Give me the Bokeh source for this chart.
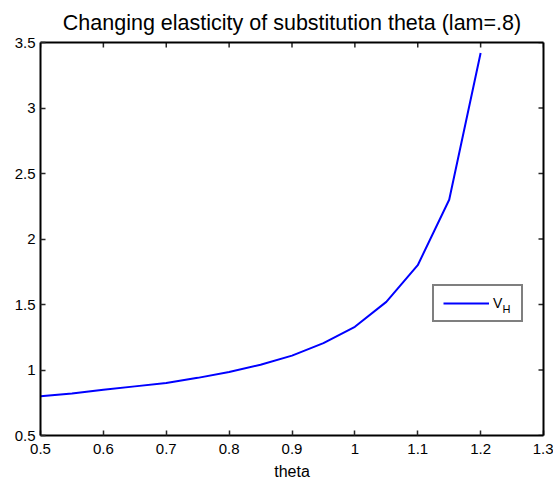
from bokeh.plotting import figure
from bokeh.models import (LinearAxis, FixedTicker, CustomJSTickFormatter, Legend,
                          LegendItem, Label, Range1d)
from bokeh.embed import file_html
from bokeh.resources import INLINE

theta = [0.5, 0.55, 0.6, 0.65, 0.7, 0.75, 0.8, 0.85, 0.9, 0.95, 1.0, 1.05, 1.1, 1.15, 1.2]
v_h = [0.80, 0.82, 0.85, 0.875, 0.90, 0.94, 0.985, 1.04, 1.11, 1.205, 1.33, 1.52, 1.80, 2.30, 3.42]
x_ticks = [0.5, 0.6, 0.7, 0.8, 0.9, 1.0, 1.1, 1.2, 1.3]
y_ticks = [0.5, 1.0, 1.5, 2.0, 2.5, 3.0, 3.5]
x_min, x_max = 0.5, 1.3
y_min, y_max = 0.5, 3.5

FONT = "Liberation Sans"
FRAME_W, FRAME_H = 503, 393
TICK_PX = 5

p = figure(frame_width=FRAME_W, frame_height=FRAME_H, output_backend="svg", toolbar_location=None,
           x_range=Range1d(x_min, x_max), y_range=Range1d(y_min, y_max),
           min_border_left=40, min_border_right=10, min_border_top=42, min_border_bottom=48,
           x_axis_location=None, y_axis_location=None)
p.title.text = "Changing elasticity of substitution theta (lam=.8)"
p.title.align = "center"
p.title.text_font = FONT
p.title.text_font_size = "21.5px"
p.title.text_font_style = "normal"
p.title.text_color = "black"
p.title.standoff = 15
p.xgrid.visible = False
p.ygrid.visible = False
p.outline_line_color = None

fmt = CustomJSTickFormatter(code="return String(Number(tick.toFixed(2)));")

def make_axis(ticks, standoff):
    ax = LinearAxis(ticker=FixedTicker(ticks=ticks), formatter=fmt)
    ax.axis_line_color = "black"
    ax.axis_line_width = 2
    ax.major_tick_line_color = "#262626"
    ax.major_tick_line_width = 1.5
    ax.major_tick_in = TICK_PX
    ax.major_tick_out = 0
    ax.minor_tick_in = 0
    ax.minor_tick_out = 0
    ax.major_label_text_font = FONT
    ax.major_label_text_color = "black"
    ax.major_label_text_font_size = "15px"
    ax.major_label_standoff = standoff
    return ax

xb = make_axis(x_ticks, 8)
xb.axis_label = "theta"
xb.axis_label_text_font = FONT
xb.axis_label_text_font_size = "16px"
xb.axis_label_text_font_style = "normal"
xb.axis_label_text_color = "black"
xb.axis_label_standoff = 6
yl = make_axis(y_ticks, 5)
p.add_layout(xb, "below")
p.add_layout(yl, "left")

# top and right edges of the box: bare axis lines (no ticks, no labels)
for side in ("above", "right"):
    edge = LinearAxis(ticker=FixedTicker(ticks=[]))
    edge.axis_line_color = "black"
    edge.axis_line_width = 2
    edge.major_tick_in = 0
    edge.major_tick_out = 0
    edge.minor_tick_in = 0
    edge.minor_tick_out = 0
    edge.major_label_standoff = 0
    p.add_layout(edge, side)

# mirrored inward ticks on top and right edges (length converted from pixels)
dy = TICK_PX * (y_max - y_min) / FRAME_H
dx = TICK_PX * (x_max - x_min) / FRAME_W
p.segment(x0=x_ticks, y0=[y_max] * len(x_ticks), x1=x_ticks, y1=[y_max - dy] * len(x_ticks),
          line_color="#262626", line_width=1.5)
p.segment(x0=[x_max] * len(y_ticks), y0=y_ticks, x1=[x_max - dx] * len(y_ticks), y1=y_ticks,
          line_color="#262626", line_width=1.5)

r = p.line(theta, v_h, line_color="#0000ff", line_width=2)

legend = Legend(items=[LegendItem(label="V", renderers=[r])], location=(392, 113))
legend.border_line_color = "black"
legend.border_line_width = 2
legend.background_fill_alpha = 0
legend.padding = 9
legend.margin = 0
legend.glyph_width = 46
legend.glyph_height = 16
legend.label_width = 19
legend.label_standoff = 4
legend.label_text_font = FONT
legend.label_text_font_size = "14px"
legend.label_text_color = "black"
p.add_layout(legend, "center")

sub = Label(x=462, y=121, x_units="screen", y_units="screen", text="H",
            text_font=FONT, text_font_size="11px", text_color="black")
p.add_layout(sub)

open("out.html", "w").write(file_html(p, INLINE))
